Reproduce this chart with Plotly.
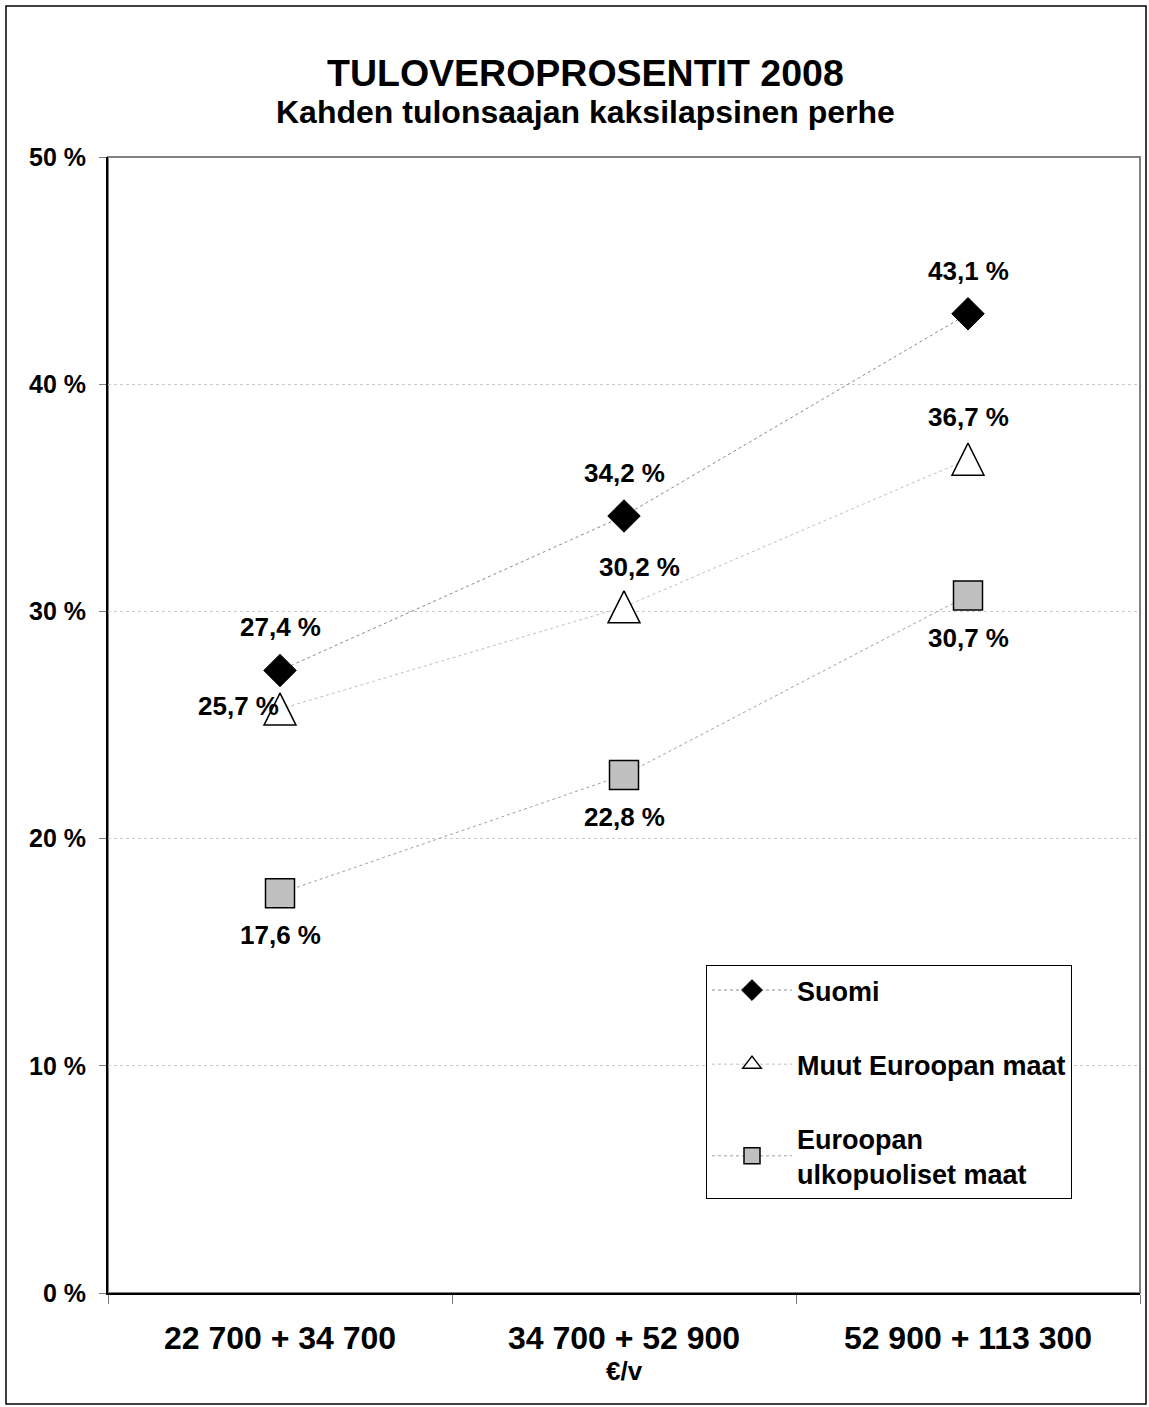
import plotly.graph_objects as go

categories = ["22 700 + 34 700", "34 700 + 52 900", "52 900 + 113 300"]
suomi = [27.4, 34.2, 43.1]
muut_eurooppa = [25.7, 30.2, 36.7]
ulkopuoliset = [17.6, 22.8, 30.7]
series_names = ["Suomi", "Muut Euroopan maat", "Euroopan<br>ulkopuoliset maat"]
y_ticks = [0, 10, 20, 30, 40, 50]
y_tick_labels = ["0 %", "10 %", "20 %", "30 %", "40 %", "50 %"]

FONT = "Liberation Sans, Arial, sans-serif"
W, H = 1149, 1407
L, R, T, B = 108, 9, 157, 114
PW, PH = W - L - R, H - T - B

def px_x(x):
    return (x - L) / PW

def px_y(y):
    return (H - B - y) / PH

def fmt(v):
    return f"{v:.1f}".replace(".", ",") + " %"

fig = go.Figure()

fig.add_trace(go.Scatter(
    x=categories, y=suomi, name=series_names[0], mode="lines+markers",
    line=dict(color="#8a8a8a", width=1, dash="dot"),
    marker=dict(symbol="diamond", size=25, color="black", line=dict(color="black", width=1)),
    legendgroup="a", legendrank=1,
))
TRI = 32
muut_line = dict(color="#c0c0c0", width=1, dash="dot")
fig.add_trace(go.Scatter(
    x=categories, y=muut_eurooppa, name=series_names[1], mode="lines+markers",
    line=muut_line,
    marker=dict(symbol="arrow-down", angle=180, standoff=TRI / 2, size=TRI,
                color="white", line=dict(color="black", width=1.5)),
    legendgroup="b", showlegend=False,
))
# legend entry for the triangle series (no data of its own)
fig.add_trace(go.Scatter(
    x=[None], y=[None], name=series_names[1], mode="lines+markers",
    line=muut_line,
    marker=dict(symbol="triangle-up", size=16,
                color="white", line=dict(color="black", width=1.5)),
    legendgroup="b", legendrank=2,
))
fig.add_trace(go.Scatter(
    x=categories, y=ulkopuoliset, name=series_names[2], mode="lines+markers",
    line=dict(color="#a0a0a0", width=1, dash="dot"),
    marker=dict(symbol="square", size=29, color="#c0c0c0", line=dict(color="black", width=1.5)),
    legendgroup="c", legendrank=3,
))

annotations = []
lab_font = dict(family=FONT, size=26, color="black", weight="bold")
for c, v in zip(categories, suomi):
    annotations.append(dict(x=c, y=v, text=fmt(v), showarrow=False, yshift=43, font=lab_font))
muut_shift = [(-42, 3), (15, 40), (0, 42)]
for (c, v), (xs, ys) in zip(zip(categories, muut_eurooppa), muut_shift):
    annotations.append(dict(x=c, y=v, text=fmt(v), showarrow=False, xshift=xs, yshift=ys, font=lab_font))
for c, v in zip(categories, ulkopuoliset):
    annotations.append(dict(x=c, y=v, text=fmt(v), showarrow=False, yshift=-42, font=lab_font))

annotations.append(dict(xref="paper", yref="paper", x=px_x(585), y=px_y(73), yanchor="middle",
                        text="TULOVEROPROSENTIT 2008", showarrow=False,
                        font=dict(family=FONT, size=37.5, color="black", weight="bold")))
annotations.append(dict(xref="paper", yref="paper", x=px_x(585), y=px_y(112), yanchor="middle",
                        text="Kahden tulonsaajan kaksilapsinen perhe", showarrow=False,
                        font=dict(family=FONT, size=32, color="black", weight="bold")))
annotations.append(dict(xref="paper", yref="paper", x=px_x(624), y=px_y(1371), yanchor="middle",
                        text="€/v", showarrow=False,
                        font=dict(family=FONT, size=26, color="black", weight="bold")))

shapes = [
    dict(type="rect", xref="paper", yref="paper", x0=0, x1=1, y0=0, y1=1,
         line=dict(color="#808080", width=2), layer="below"),
    dict(type="rect", xref="paper", yref="paper", x0=px_x(6), x1=px_x(1146),
         y0=px_y(1404), y1=px_y(6), line=dict(color="black", width=1.5)),
]

fig.update_layout(
    width=W, height=H,
    margin=dict(l=L, r=R, t=T, b=B),
    paper_bgcolor="white", plot_bgcolor="white",
    font=dict(family=FONT, color="black"),
    annotations=annotations,
    shapes=shapes,
    showlegend=True,
    legend=dict(
        x=px_x(706), y=px_y(965), xanchor="left", yanchor="top",
        bordercolor="black", borderwidth=1, bgcolor="white",
        font=dict(family=FONT, size=27, color="black", weight="bold"),
        tracegroupgap=36, itemwidth=80, traceorder="grouped",
    ),
)

fig.update_xaxes(
    type="category", range=[-0.5, 2.5],
    showline=True, linecolor="black", linewidth=2,
    ticks="outside", tickson="boundaries", ticklen=9, tickcolor="#808080",
    tickfont=dict(family=FONT, size=32, color="black", weight="bold"),
    showgrid=False, zeroline=False, ticklabelstandoff=16,
)
fig.update_yaxes(
    range=[0, 50], tickvals=y_ticks, ticktext=y_tick_labels,
    showline=True, linecolor="black", linewidth=2,
    ticks="outside", ticklen=7, tickcolor="#808080",
    tickfont=dict(family=FONT, size=25, color="black", weight="bold"),
    showgrid=True, gridcolor="#c8c8c8", gridwidth=1, griddash="dot",
    zeroline=False, ticklabelstandoff=8,
)

fig.write_html("out.html")
